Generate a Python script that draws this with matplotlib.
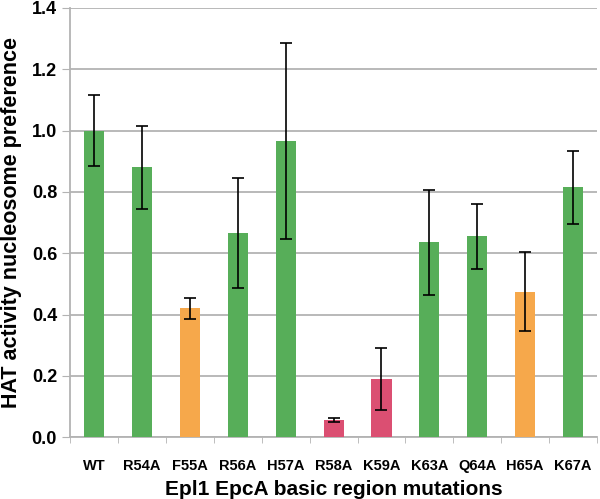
import matplotlib.pyplot as plt
import numpy as np

plt.rcParams["font.family"] = ["Liberation Sans", "DejaVu Sans"]

# mutation labels and measured values
mutations = ["WT", "R54A", "F55A", "R56A", "H57A", "R58A", "K59A",
             "K63A", "Q64A", "H65A", "K67A"]
preference = [1.00, 0.88, 0.42, 0.665, 0.965, 0.055, 0.19,
              0.635, 0.655, 0.475, 0.815]
errors = [0.115, 0.135, 0.035, 0.18, 0.32, 0.007, 0.10,
          0.17, 0.107, 0.13, 0.12]
groups = ["g", "g", "o", "g", "g", "r", "r", "g", "g", "o", "g"]

group_colors = {"g": "#57ae59", "o": "#f6a84b", "r": "#db4f72"}

fig = plt.figure(figsize=(6.0, 4.99), dpi=100)
ax = fig.add_axes([0.117, 0.124, 0.878, 0.86])

x = np.arange(len(mutations))
ax.bar(x, preference, width=0.42, color=[group_colors[g] for g in groups],
       zorder=3)
ax.errorbar(x, preference, yerr=errors, fmt="none", ecolor="black",
            elinewidth=1.2, capsize=4, capthick=1.2, zorder=4)

ax.set_xlim(-0.5, len(mutations) - 0.5)
ax.set_ylim(0, 1.4)
ax.set_yticks(np.arange(0, 1.41, 0.2))
ax.set_yticklabels([f"{v:.1f}" for v in np.arange(0, 1.41, 0.2)])
ax.yaxis.grid(True, color="#b3b3b3", linewidth=1.3, zorder=0)

ax.set_xticks(x)
ax.set_xticklabels(mutations, fontsize=10.5, fontweight="bold")
ax.set_xticks(np.arange(-0.5, len(mutations)), minor=True)
ax.tick_params(axis="x", which="major", length=0, pad=16)
ax.tick_params(axis="x", which="minor", length=4, color="#b3b3b3")
ax.tick_params(axis="y", length=6, color="#b3b3b3", labelsize=13)
for lab in ax.get_yticklabels():
    lab.set_fontweight("bold")

for side in ["top", "right"]:
    ax.spines[side].set_visible(False)
for side in ["left", "bottom"]:
    ax.spines[side].set_color("#b3b3b3")
    ax.spines[side].set_linewidth(1.3)

ax.set_ylabel("HAT activity nucleosome preference", fontsize=15.5,
              fontweight="bold", labelpad=7)
ax.set_xlabel("Epl1 EpcA basic region mutations", fontsize=15,
              fontweight="bold", labelpad=5)

fig.savefig("out.png", dpi=100)
